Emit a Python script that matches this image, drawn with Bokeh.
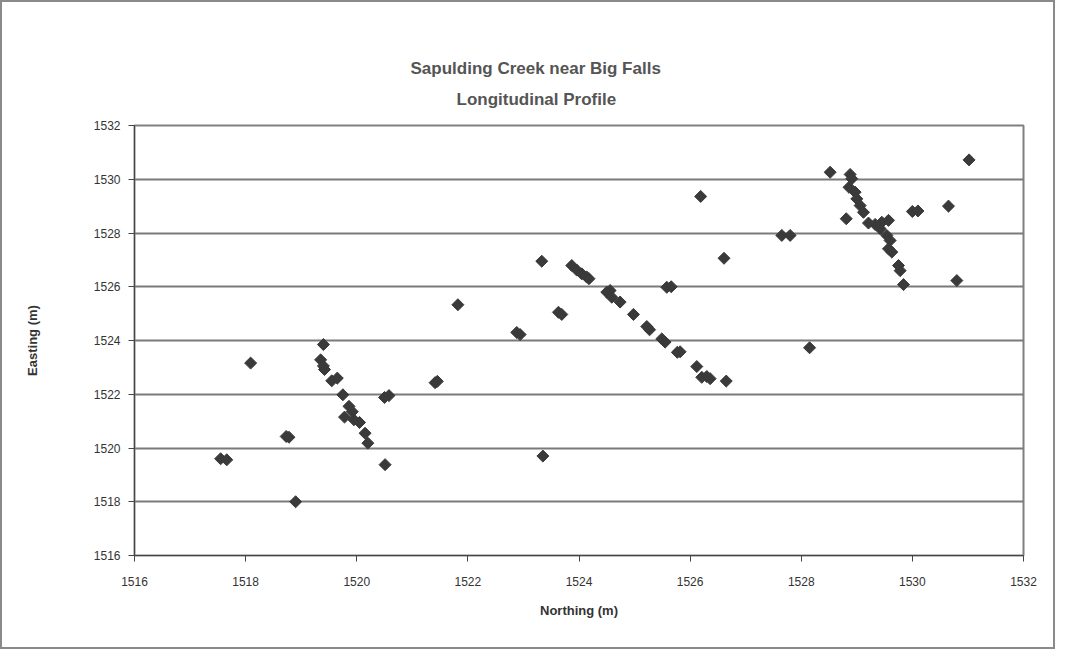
import math
from bokeh.plotting import figure
from bokeh.models import Title, SingleIntervalTicker, Range1d
from bokeh.embed import file_html
from bokeh.resources import INLINE

title_line1 = "Sapulding Creek near Big Falls"
title_line2 = "Longitudinal Profile"
x_label = "Northing (m)"
y_label = "Easting (m)"

northing = [
    1517.55, 1517.66, 1518.09, 1518.73, 1518.78, 1518.90,
    1519.40, 1519.35, 1519.40, 1519.42, 1519.55, 1519.65, 1519.75, 1519.86,
    1519.92, 1519.78, 1519.95, 1520.05, 1520.15, 1520.20,
    1520.50, 1520.58, 1520.51, 1521.41, 1521.45, 1521.82,
    1522.88, 1522.94, 1523.33, 1523.35, 1523.63, 1523.69,
    1523.87, 1523.96, 1524.05, 1524.14, 1524.18,
    1524.50, 1524.56, 1524.59, 1524.74, 1524.98,
    1525.22, 1525.27, 1525.49, 1525.55, 1525.77, 1525.82,
    1526.12, 1526.21, 1526.30, 1526.36, 1526.65,
    1525.58, 1525.66, 1526.61, 1526.19,
    1527.65, 1527.80, 1528.15, 1528.52,
    1528.88, 1528.91, 1528.86, 1528.97, 1529.00, 1529.06, 1529.12, 1528.81,
    1529.21, 1529.33, 1529.45, 1529.57, 1529.42, 1529.54, 1529.60, 1529.57,
    1529.63, 1529.75, 1529.78, 1529.84,
    1530.00, 1530.10, 1530.65, 1530.80, 1531.02,
]
easting = [
    1519.60, 1519.56, 1523.16, 1520.43, 1520.40, 1518.00,
    1523.85, 1523.28, 1523.05, 1522.92, 1522.50, 1522.60, 1521.98, 1521.55,
    1521.35, 1521.15, 1521.05, 1520.95, 1520.55, 1520.18,
    1521.88, 1521.95, 1519.38, 1522.43, 1522.48, 1525.33,
    1524.30, 1524.22, 1526.95, 1519.70, 1525.05, 1524.97,
    1526.79, 1526.62, 1526.48, 1526.36, 1526.30,
    1525.80, 1525.86, 1525.61, 1525.43, 1524.97,
    1524.52, 1524.40, 1524.06, 1523.94, 1523.56, 1523.58,
    1523.03, 1522.63, 1522.66, 1522.58, 1522.49,
    1525.98, 1526.00, 1527.06, 1529.36,
    1527.91, 1527.91, 1523.73, 1530.26,
    1530.18, 1530.02, 1529.70, 1529.52, 1529.27, 1529.02, 1528.77, 1528.53,
    1528.37, 1528.32, 1528.40, 1528.47, 1528.16, 1527.91, 1527.72, 1527.41,
    1527.29, 1526.79, 1526.60, 1526.08,
    1528.80, 1528.82, 1529.00, 1526.23, 1530.72,
]

FONT = "Liberation Sans"
GREY = "#3a3a3a"

p = figure(width=1055, height=649, output_backend="svg", toolbar_location=None,
           x_range=Range1d(1516, 1532), y_range=Range1d(1516, 1532),
           min_border_left=132, min_border_right=34, min_border_top=123,
           min_border_bottom=96)
p.styles = {"border": "2px solid #8a8a8a"}
p.background_fill_color = "white"
p.border_fill_color = "white"
p.outline_line_color = "#808080"
p.outline_line_width = 2

p.title.text = title_line1
p.title.align = "left"
p.title.offset = 276
p.title.standoff = -12
p.title.text_font = FONT
p.title.text_font_size = "17px"
p.title.text_font_style = "bold"
p.title.text_color = "#555555"
p.add_layout(Title(text=title_line2, align="left", offset=322, text_font=FONT,
                   text_font_size="17px", text_font_style="bold",
                   text_color="#555555", standoff=33), "above")

p.xgrid.grid_line_color = None
p.ygrid.grid_line_color = "#7a7a7a"
p.ygrid.grid_line_width = 2

p.xaxis.ticker = SingleIntervalTicker(interval=2)
p.yaxis.ticker = SingleIntervalTicker(interval=2)
for ax in (p.xaxis[0], p.yaxis[0]):
    ax.axis_line_color = "#444444"
    ax.major_tick_line_color = "#444444"
    ax.major_tick_out = 6
    ax.major_tick_in = 0
    ax.minor_tick_line_color = None
    ax.major_label_text_font = FONT
    ax.major_label_text_font_size = "12px"
    ax.major_label_text_color = "#333333"
    ax.axis_label_text_font = FONT
    ax.axis_label_text_font_size = "13px"
    ax.axis_label_text_font_style = "bold"
    ax.axis_label_text_color = "#333333"
p.xaxis.axis_label = x_label
p.yaxis.axis_label = y_label
p.xaxis.major_label_standoff = 15
p.yaxis.major_label_standoff = 8
p.xaxis.axis_label_standoff = 14
p.yaxis.axis_label_standoff = 51

p.scatter(northing, easting, marker="square", angle=math.pi / 4, size=8.5,
          fill_color=GREY, line_color=GREY)

open("out.html", "w").write(file_html(p, INLINE))
